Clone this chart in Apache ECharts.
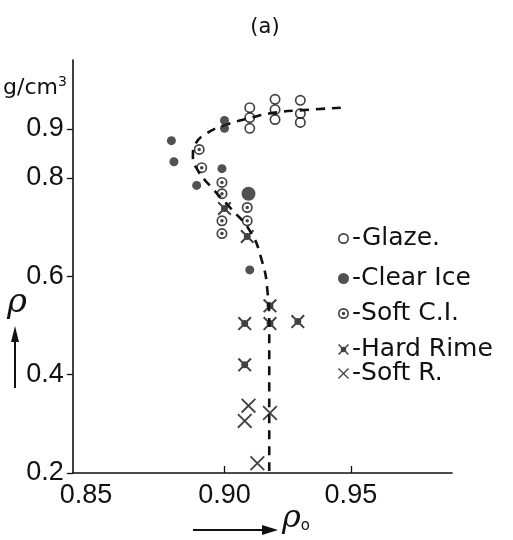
<!DOCTYPE html>
<html>
<head>
<meta charset="utf-8">
<script src="https://cdn.jsdelivr.net/npm/echarts@6/dist/echarts.min.js"></script>
<style>html,body{margin:0;padding:0;background:#fff;}#c{width:513px;height:540px;}</style>
</head>
<body>
<div id="c"></div>
<script>
// Tick labels
const xTickLabels = [0.85, 0.90, 0.95];
const xTicks = [0.90, 0.95];
const yTickLabels = [0.2, 0.4, 0.6, 0.8, 0.9];

// Series data [rho0, rho]
const glaze = [[0.910,0.943],[0.910,0.923],[0.910,0.901],[0.920,0.960],[0.920,0.939],[0.920,0.919],[0.930,0.958],[0.930,0.931],[0.930,0.913]];
const clearIce = [[0.879,0.876],[0.880,0.833],[0.889,0.785],[0.899,0.819],[0.900,0.917],[0.900,0.901],[0.910,0.613]];
const clearIceBig = [[0.9095,0.768]];
const softCI = [[0.890,0.858],[0.891,0.821],[0.899,0.791],[0.899,0.768],[0.899,0.713],[0.899,0.687],[0.909,0.740],[0.909,0.713]];
const hardRime = [[0.900,0.738],[0.909,0.681],[0.918,0.540],[0.908,0.504],[0.918,0.504],[0.929,0.508],[0.908,0.420]];
const softRime = [[0.9095,0.337],[0.908,0.306],[0.918,0.322],[0.913,0.220]];
const curve = [[0.946,0.943],[0.931,0.938],[0.920,0.933],[0.910,0.922],[0.900,0.907],[0.893,0.891],[0.8885,0.869],[0.8875,0.845],[0.8895,0.815],[0.8945,0.783],[0.9025,0.738],[0.910,0.693],[0.9145,0.637],[0.917,0.570],[0.9177,0.489],[0.9177,0.204]];

const ring = 'path://M0,-10A10,10 0 1,1 0,10A10,10 0 1,1 0,-10Z M0,-7A7,7 0 1,0 0,7A7,7 0 1,0 0,-7Z';
const ringDot = ring + ' M0,-3.2A3.2,3.2 0 1,1 0,3.2A3.2,3.2 0 1,1 0,-3.2Z';
const xThin = 'path://M-10,-8.3L-8.3,-10L10,8.3L8.3,10Z M8.3,-10L10,-8.3L-8.3,10L-10,8.3Z';
const xHard = 'path://M-10,-8L-8,-10L10,8L8,10Z M8,-10L10,-8L-8,10L-10,8Z M0,-5A5,5 0 1,1 0,5A5,5 0 1,1 0,-5Z';

const ink = '#111';
const chart = echarts.init(document.getElementById('c'));
const legendRows = [
  {name:'Glaze.', y:235},
  {name:'Clear Ice', y:275},
  {name:'Soft C.I.', y:310},
  {name:'Hard Rime', y:346},
  {name:'Soft R.', y:370}
];
chart.setOption({
  animation:false,
  backgroundColor:'#fff',
  title:{text:'(a)', left:260, top:12, textAlign:'center',
    textStyle:{fontFamily:'DejaVu Sans', fontSize:21, fontWeight:'normal', color:ink}},
  grid:{left:68, right:61, top:60, bottom:67},
  legend: legendRows.map(r => ({
    data:[r.name], left:333, top:r.y-14, itemWidth:11, itemHeight:11, itemGap:0,
    formatter:'-{name}', selectedMode:false,
    textStyle:{fontFamily:'DejaVu Sans', fontSize:25, color:ink, padding:[0,0,0,-2]}
  })),
  xAxis:{type:'value', min:0.84, max:0.99,
    axisLine:{lineStyle:{color:ink, width:1.6}},
    axisTick:{show:true, inside:true, length:7, lineStyle:{color:ink, width:1.3}, customValues:xTicks},
    axisLabel:{customValues:xTickLabels, margin:9, fontFamily:'Liberation Sans', fontSize:27, color:ink,
      formatter: v => Math.abs(v-0.85)<1e-6 ? '{l|0.85}' : v.toFixed(2),
      rich:{l:{fontFamily:'Liberation Sans', fontSize:27, color:ink, padding:[0,24,0,0]}}},
    splitLine:{show:false}},
  yAxis:{type:'value', min:0.2, max:1.04,
    name:'g/cm{s|3}', nameLocation:'end', nameGap:-28,
    nameTextStyle:{align:'right', verticalAlign:'middle', fontFamily:'DejaVu Sans', fontSize:22, color:ink, padding:[0,6,0,0],
      rich:{s:{fontFamily:'DejaVu Sans', fontSize:14, color:ink, verticalAlign:'top', padding:[0,0,12,0]}}},
    axisLine:{lineStyle:{color:ink, width:1.6}},
    axisTick:{show:true, length:6, lineStyle:{color:ink, width:1.3}, customValues:yTickLabels},
    axisLabel:{customValues:yTickLabels, margin:9, fontFamily:'Liberation Sans', fontSize:27, color:ink,
      formatter: v => v.toFixed(1)},
    splitLine:{show:false}},
  graphic:[
    {type:'text', left:7, top:286, style:{text:'ρ', fontFamily:'DejaVu Serif', fontStyle:'italic', fontSize:34, fill:ink}},
    {type:'line', shape:{x1:15, y1:388, x2:15, y2:336}, style:{stroke:ink, lineWidth:2}},
    {type:'polygon', shape:{points:[[15,326],[11,342],[19,342]]}, style:{fill:ink}},
    {type:'line', shape:{x1:193, y1:530, x2:266, y2:530}, style:{stroke:ink, lineWidth:2}},
    {type:'polygon', shape:{points:[[278,530],[262,525],[262,535]]}, style:{fill:ink}},
    {type:'text', left:282, top:503, style:{text:'ρ{s|o}', fontFamily:'DejaVu Serif', fontStyle:'italic', fontSize:32, fill:ink,
      rich:{s:{fontFamily:'DejaVu Sans', fontSize:15, fill:ink, padding:[14,0,0,0]}}}}
  ],
  series:[
    {type:'line', name:'curve', data:curve, smooth:0.5, showSymbol:false, silent:true,
      lineStyle:{color:ink, width:2.6, type:[9,7]}, z:1},
    {type:'scatter', name:'Glaze.', data:glaze, symbol:ring, symbolSize:11, itemStyle:{color:ink}, z:3},
    {type:'scatter', name:'Clear Ice', data:clearIce, symbol:'circle', symbolSize:9, itemStyle:{color:'#262626'}, z:3},
    {type:'scatter', name:'Clear Ice', data:clearIceBig, symbol:'circle', symbolSize:14, itemStyle:{color:'#262626'}, z:3},
    {type:'scatter', name:'Soft C.I.', data:softCI, symbol:ringDot, symbolSize:11, itemStyle:{color:ink}, z:3},
    {type:'scatter', name:'Hard Rime', data:hardRime, symbol:xHard, symbolSize:14, itemStyle:{color:ink}, z:3},
    {type:'scatter', name:'Soft R.', data:softRime, symbol:xThin, symbolSize:15, itemStyle:{color:ink}, z:3}
  ]
});
</script>
</body>
</html>
